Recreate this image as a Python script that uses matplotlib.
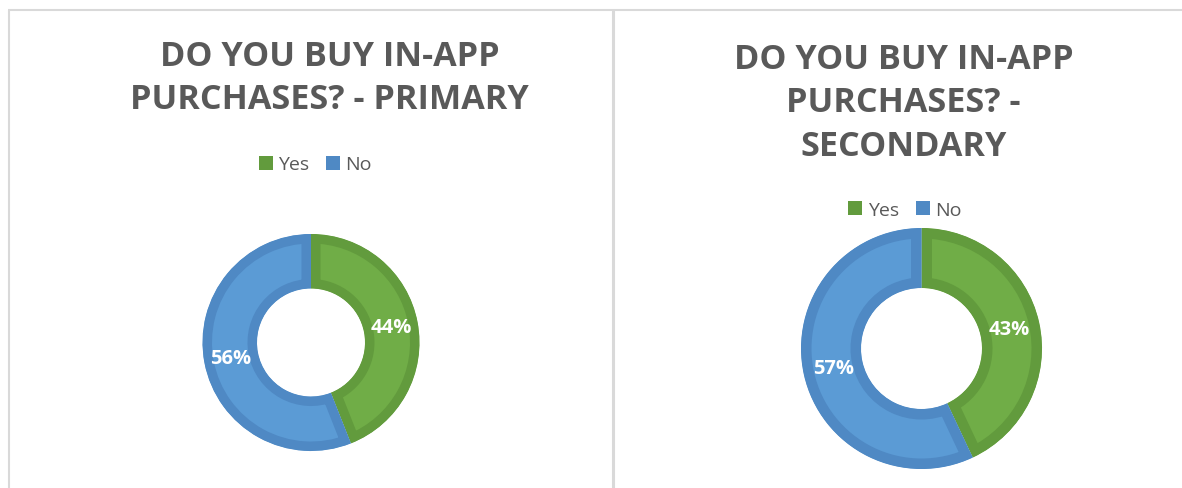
import matplotlib
matplotlib.use("Agg")
import matplotlib.pyplot as plt
from matplotlib.patches import Patch

plt.rcParams['font.family'] = ['Open Sans', 'DejaVu Sans']

labels = ["Yes", "No"]
primary = [44, 56]
secondary = [43, 57]
titles = ["DO YOU BUY IN-APP\nPURCHASES? - PRIMARY",
          "DO YOU BUY IN-APP\nPURCHASES? -\nSECONDARY"]

light = ["#70AD47", "#5B9BD5"]
dark = ["#629B3D", "#4F89C4"]
grey_text = "#595959"
border = "#d9d9d9"

W, H = 1182, 489
fig = plt.figure(figsize=(W / 100, H / 100), dpi=100)
ax = fig.add_axes([0, 0, 1, 1])

# layout in pixels: donut centre, outer / inner radius, band, title x/top, legend centre
panels = [
    dict(vals=primary, title=titles[0], cx=311, cy=343.5, R=108.5, r=54, band=9.5,
         tx=329.5, ty=40, lx=315.5, ly=165.5),
    dict(vals=secondary, title=titles[1], cx=921.5, cy=349.5, R=120.5, r=60.5, band=10.5,
         tx=903.5, ty=43, lx=905, ly=210.5),
]

for p in panels:
    wedges, texts, autotexts = ax.pie(
        p["vals"], radius=p["R"], center=(p["cx"], p["cy"]),
        startangle=270, counterclock=True, colors=light,
        autopct='%1.0f%%', pctdistance=0.75,
        wedgeprops=dict(width=p["R"] - p["r"], linewidth=2 * p["band"] * 0.72),
        textprops=dict(color="white", fontsize=14.5, fontweight="bold"))
    for i, w in enumerate(wedges):
        w.set_edgecolor(dark[i])
        w.set_clip_on(True)
        w.set_clip_path(w)  # keep the darker band inside each slice

    ax.text(p["tx"], p["ty"], p["title"], ha="center", va="top",
            fontsize=24.6, fontweight="bold", color=grey_text, linespacing=1.36)

    handles = [Patch(facecolor=c, edgecolor="none") for c in dark]
    fig.legend(handles, labels, loc="center",
               bbox_to_anchor=(p["lx"] / W, 1 - p["ly"] / H),
               ncol=2, frameon=False, fontsize=14, labelcolor=grey_text,
               handlelength=0.72, handleheight=0.72, handletextpad=0.28,
               columnspacing=0.85)

# chart frames
ax.plot([8, W], [11, 11], color=border, lw=1.5, solid_capstyle="butt")
ax.plot([9, 9], [11, H], color=border, lw=1.5, solid_capstyle="butt")
ax.plot([613, 613], [11, H], color=border, lw=2.2, solid_capstyle="butt")

ax.set_xlim(0, W)
ax.set_ylim(H, 0)
ax.set_aspect("auto")
ax.axis("off")

fig.savefig("out.png", dpi=100, facecolor="white")
